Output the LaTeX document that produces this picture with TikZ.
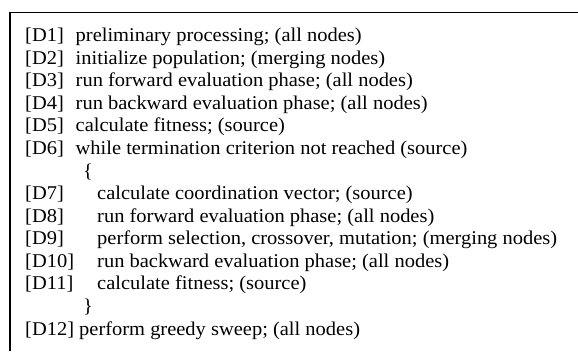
\documentclass[tikz,border=0pt]{standalone}
\usepackage{fontspec}
\setmainfont[FakeStretch=1.05]{Liberation Serif}
\begin{document}
\begin{tikzpicture}[x=1pt,y=-1pt,
  txt/.style={anchor=base west,inner sep=0pt,font=\fontsize{19.5}{22}\selectfont},
  frame/.style={line width=1.5pt}]
\useasboundingbox (0,0) rectangle (578,351);
\coordinate (fb) at (10,351);
\coordinate (fc) at (10,12.5);
\coordinate (fe) at (578,12.5);
\draw[frame] (fb) -- (fc) -- (fe);
\def\lx{25}
\def\ta{75.5}
\def\tb{97}
\node[txt] (l1) at (\lx,41.5) {[D1]};
\node[txt] (t1) at (\ta,41.5) {preliminary processing; (all nodes)};
\node[txt] (l2) at (\lx,64.1) {[D2]};
\node[txt] (t2) at (\ta,64.1) {initialize population; (merging nodes)};
\node[txt] (l3) at (\lx,86.7) {[D3]};
\node[txt] (t3) at (\ta,86.7) {run forward evaluation phase; (all nodes)};
\node[txt] (l4) at (\lx,109.2) {[D4]};
\node[txt] (t4) at (\ta,109.2) {run backward evaluation phase; (all nodes)};
\node[txt] (l5) at (\lx,131.8) {[D5]};
\node[txt] (t5) at (\ta,131.8) {calculate fitness; (source)};
\node[txt] (l6) at (\lx,154.4) {[D6]};
\node[txt] (t6) at (\ta,154.4) {while termination criterion not reached (source)};
\node[txt] (ob) at (83,177.0) {\{};
\node[txt] (l7) at (\lx,199.6) {[D7]};
\node[txt] (t7) at (\tb,199.6) {calculate coordination vector; (source)};
\node[txt] (l8) at (\lx,222.1) {[D8]};
\node[txt] (t8) at (\tb,222.1) {run forward evaluation phase; (all nodes)};
\node[txt] (l9) at (\lx,244.7) {[D9]};
\node[txt] (t9) at (\tb,244.7) {perform selection, crossover, mutation; (merging nodes)};
\node[txt] (l10) at (\lx,267.3) {[D10]};
\node[txt] (t10) at (\tb,267.3) {run backward evaluation phase; (all nodes)};
\node[txt] (l11) at (\lx,289.9) {[D11]};
\node[txt] (t11) at (\tb,289.9) {calculate fitness; (source)};
\node[txt] (cb) at (83,312.4) {\}};
\node[txt] (l12) at (\lx,335.0) {[D12] perform greedy sweep; (all nodes)};
\end{tikzpicture}
\end{document}
